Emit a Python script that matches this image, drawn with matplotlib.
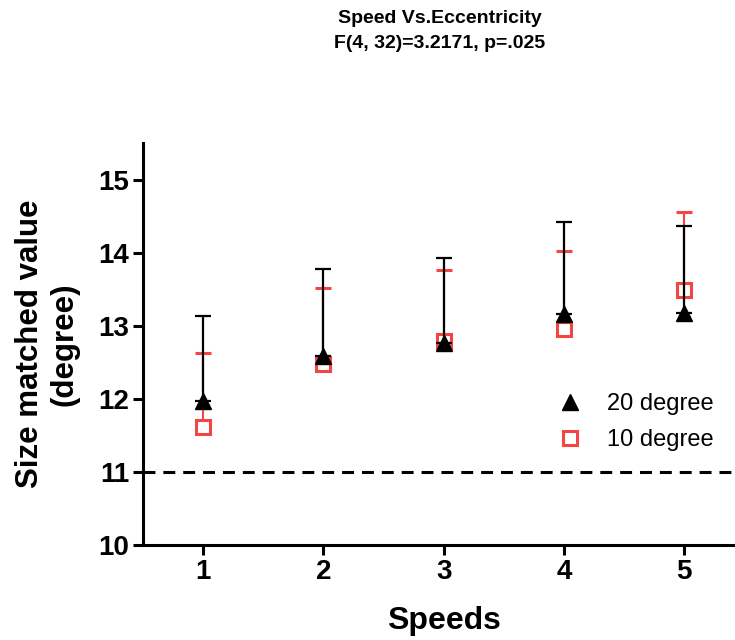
import matplotlib.pyplot as plt
import numpy as np

plt.rcParams['font.family'] = ['Liberation Sans', 'DejaVu Sans']

speeds = [1, 2, 3, 4, 5]
# 20 degree (black triangles)
mean20 = [11.97, 12.58, 12.77, 13.16, 13.17]
err20 = [1.16, 1.20, 1.15, 1.26, 1.19]
# 10 degree (red squares)
mean10 = [11.62, 12.48, 12.79, 12.96, 13.49]
err10 = [1.01, 1.03, 0.97, 1.06, 1.06]
chance = 11.0

red = '#f44545'

fig = plt.figure(figsize=(7.35, 6.4), dpi=100)
ax = fig.add_axes([143/735, 95/640, 601.5/735, 402/640])

# red first so the black bars sit on top
ax.errorbar(speeds, mean10, yerr=[np.zeros(5), err10], fmt='s', color=red,
            mfc='white', mec=red, ms=10.5, mew=2.2, elinewidth=1.5,
            capsize=6, capthick=1.5, label='10 degree', zorder=3)
ax.errorbar(speeds, mean20, yerr=[np.zeros(5), err20], fmt='^', color='black',
            ms=11, elinewidth=1.6, capsize=6, capthick=1.6,
            label='20 degree', zorder=4)

ax.axhline(chance, color='black', lw=2.2, ls=(0, (3.9, 2.6)), zorder=2)

ax.set_xlim(0.5, 5.5)
ax.set_ylim(10, 15.5)
ax.set_xticks(speeds)
ax.set_yticks([10, 11, 12, 13, 14, 15])

for s in ['top', 'right']:
    ax.spines[s].set_visible(False)
for s in ['left', 'bottom']:
    ax.spines[s].set_linewidth(2.2)
ax.tick_params(width=2.2, length=7, labelsize=20, pad=3)
for lab in ax.get_xticklabels() + ax.get_yticklabels():
    lab.set_fontweight('bold')

ax.set_xlabel('Speeds', fontsize=23, fontweight='bold')
ax.xaxis.set_label_coords(0.5, -0.152)
ax.set_ylabel('Size matched value\n(degree)', fontsize=22.5, fontweight='bold',
              linespacing=1.2)
ax.yaxis.set_label_coords(-0.105, 0.5)

fig.text(440/735, 1 - 10/640, 'Speed Vs.Eccentricity\nF(4, 32)=3.2171, p=.025',
         ha='center', va='top', fontsize=14, fontweight='bold', linespacing=1.6)

h, l = ax.get_legend_handles_labels()
leg = ax.legend([h[1][0], h[0][0]], [l[1], l[0]], loc='center left',
                bbox_to_anchor=(0.69, 0.306), frameon=False, fontsize=17,
                handlelength=1.0, handletextpad=1.08, labelspacing=0.58,
                borderpad=0, borderaxespad=0)

fig.savefig('out.png', dpi=100)
